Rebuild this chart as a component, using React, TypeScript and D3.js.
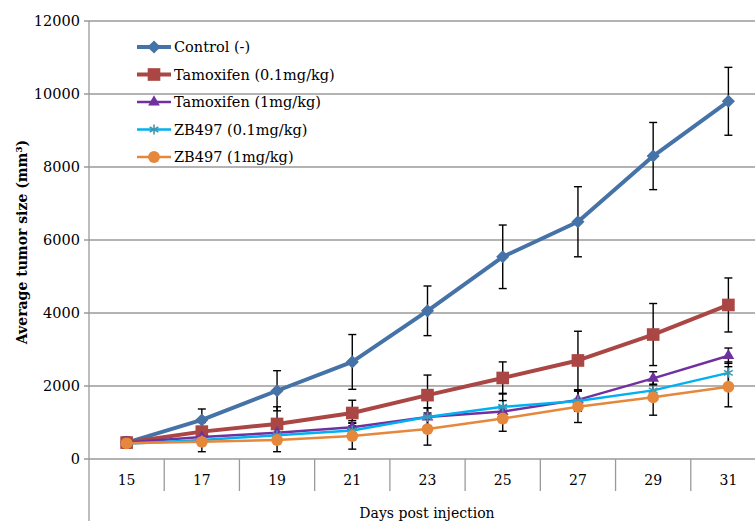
import React from "react";
import * as d3 from "d3";

const days = ["15", "17", "19", "21", "23", "25", "27", "29", "31"];
const yTicks = [0, 2000, 4000, 6000, 8000, 10000, 12000];

const controlVals = [450, 1070, 1870, 2660, 4060, 5540, 6500, 8300, 9800];
const controlErr = [150, 300, 550, 750, 680, 870, 960, 920, 930];
const tam01Vals = [450, 750, 960, 1260, 1750, 2220, 2700, 3410, 4220];
const tam01Err = [120, 250, 470, 350, 550, 440, 800, 850, 740];
const tam1Vals = [450, 600, 720, 870, 1150, 1300, 1620, 2210, 2830];
const tam1Err = [100, 150, 200, 180, 250, 300, 250, 180, 210];
const zb01Vals = [420, 520, 650, 780, 1150, 1430, 1590, 1880, 2360];
const zb01Err = [100, 150, 200, 200, 250, 370, 280, 170, 300];
const zb1Vals = [430, 470, 520, 630, 820, 1110, 1430, 1690, 1980];
const zb1Err = [100, 270, 320, 360, 440, 350, 430, 490, 550];

const seriesNames = [
  "Control (-)",
  "Tamoxifen (0.1mg/kg)",
  "Tamoxifen (1mg/kg)",
  "ZB497 (0.1mg/kg)",
  "ZB497 (1mg/kg)",
];

type Series = {
  name: string;
  vals: number[];
  err: number[];
  color: string;
  fill: string;
  width: number;
  symbol: d3.SymbolType;
  size: number;
  strokeSym?: boolean;
};

const series: Series[] = [
  { name: seriesNames[0], vals: controlVals, err: controlErr, color: "#4572A7", fill: "#4572A7", width: 4, symbol: d3.symbolDiamond2, size: 110 },
  { name: seriesNames[1], vals: tam01Vals, err: tam01Err, color: "#AA4643", fill: "#AA4643", width: 4, symbol: d3.symbolSquare, size: 160 },
  { name: seriesNames[2], vals: tam1Vals, err: tam1Err, color: "#7030A0", fill: "#7030A0", width: 2.5, symbol: d3.symbolTriangle, size: 60 },
  { name: seriesNames[3], vals: zb01Vals, err: zb01Err, color: "#00B0F0", fill: "#4198AF", width: 2.5, symbol: d3.symbolAsterisk, size: 70, strokeSym: true },
  { name: seriesNames[4], vals: zb1Vals, err: zb1Err, color: "#E6883C", fill: "#E6883C", width: 2.5, symbol: d3.symbolCircle, size: 110 },
];

const W = 755;
const H = 521;
const serif = "'DejaVu Serif', serif";

export default function App() {
  const x = d3.scaleBand<string>().domain(days).range([89, 766]).paddingInner(0).paddingOuter(0);
  const y = d3.scaleLinear().domain([0, 12000]).range([459, 21]);
  const cx = (d: string) => (x(d) as number) + x.bandwidth() / 2;
  const line = d3
    .line<number>()
    .x((_, i) => cx(days[i]))
    .y((v) => y(v));

  return (
    <div style={{ position: "absolute", left: 0, top: 0 }}>
      <svg width={W} height={H} style={{ display: "block", background: "#fff" }}>
        {/* gridlines */}
        {yTicks.map((t) => (
          <g key={t}>
            <line x1={84} x2={W} y1={y(t)} y2={y(t)} stroke="#9a9a9a" strokeWidth={1.3} />
            <text x={80} y={y(t)} dy="0.35em" textAnchor="end" fontFamily={serif} fontSize={14.5} fill="#000">
              {t}
            </text>
          </g>
        ))}
        {/* y axis */}
        <line x1={89} x2={89} y1={21} y2={H} stroke="#9a9a9a" strokeWidth={1.3} />
        {/* category separators */}
        {days.slice(1).map((d) => (
          <line key={d} x1={x(d) as number} x2={x(d) as number} y1={459} y2={491} stroke="#9a9a9a" strokeWidth={1.3} />
        ))}
        {days.map((d) => (
          <text key={d} x={cx(d)} y={480} dy="0.35em" textAnchor="middle" fontFamily={serif} fontSize={14} fill="#000">
            {d}
          </text>
        ))}
        <text x={427} y={513} dy="0.35em" textAnchor="middle" fontFamily={serif} fontSize={14} fill="#000">
          Days post injection
        </text>
        <text
          transform={`translate(27,242) rotate(-90)`}
          textAnchor="middle"
          fontFamily={serif}
          fontWeight="bold"
          fontSize={14}
          fill="#000"
        >
          Average tumor size (mm³)
        </text>
        {/* error bars */}
        {series.map((s) => (
          <g key={s.name + "err"}>
            {s.vals.map((v, i) => {
              const px = cx(days[i]);
              const top = y(v + s.err[i]);
              const bot = y(Math.max(0, v - s.err[i]));
              return (
                <g key={i} stroke="#000" strokeWidth={1.4}>
                  <line x1={px} x2={px} y1={top} y2={bot} />
                  <line x1={px - 4} x2={px + 4} y1={top} y2={top} />
                  <line x1={px - 4} x2={px + 4} y1={bot} y2={bot} />
                </g>
              );
            })}
          </g>
        ))}
        {/* lines and markers */}
        {series.map((s) => (
          <g key={s.name}>
            <path d={line(s.vals) as string} fill="none" stroke={s.color} strokeWidth={s.width} strokeLinejoin="round" />
            {s.vals.map((v, i) => (
              <path
                key={i}
                transform={`translate(${cx(days[i])},${y(v)})`}
                d={d3.symbol(s.symbol, s.size)() as string}
                fill={s.strokeSym ? "none" : s.fill}
                stroke={s.strokeSym ? s.fill : "none"}
                strokeWidth={s.strokeSym ? 1.6 : 0}
              />
            ))}
          </g>
        ))}
        {/* legend */}
        {series.map((s, i) => {
          const ly = 47 + i * 27.5;
          return (
            <g key={s.name + "leg"}>
              <line x1={137} x2={171} y1={ly} y2={ly} stroke={s.color} strokeWidth={s.width} />
              <path
                transform={`translate(154,${ly})`}
                d={d3.symbol(s.symbol, s.size)() as string}
                fill={s.strokeSym ? "none" : s.fill}
                stroke={s.strokeSym ? s.fill : "none"}
                strokeWidth={s.strokeSym ? 1.6 : 0}
              />
              <text x={174} y={ly} dy="0.35em" fontFamily={serif} fontSize={14.5} fill="#000">
                {s.name}
              </text>
            </g>
          );
        })}
      </svg>
    </div>
  );
}
